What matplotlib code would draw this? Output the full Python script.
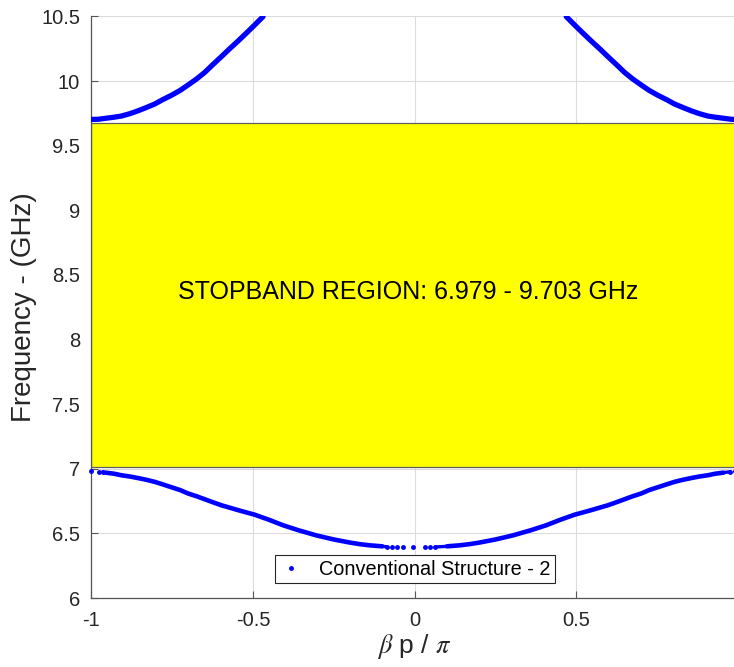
import matplotlib
matplotlib.use("Agg")
import matplotlib.pyplot as plt
from matplotlib.lines import Line2D
from matplotlib.patches import Rectangle

plt.rcParams['font.family'] = ['Liberation Sans', 'DejaVu Sans']
plt.rcParams['mathtext.fontset'] = 'stix'

# ---- data ----
# upper band, left branch (beta p / pi, GHz)
upper_left_beta = [-1.0, -0.979, -0.955, -0.930, -0.907, -0.880, -0.855, -0.830, -0.804, -0.780, -0.752,
                   -0.725, -0.701, -0.675, -0.650, -0.625, -0.598, -0.572, -0.546, -0.520, -0.495, -0.469]
upper_left_freq = [9.703, 9.704, 9.712, 9.720, 9.729, 9.748, 9.770, 9.795, 9.822, 9.855, 9.890,
                   9.928, 9.969, 10.015, 10.065, 10.125, 10.188, 10.250, 10.310, 10.372, 10.433, 10.498]
# upper band, right branch
upper_right_beta = [0.469, 0.495, 0.520, 0.546, 0.572, 0.598, 0.625, 0.650, 0.675, 0.701, 0.725,
                    0.752, 0.780, 0.804, 0.830, 0.855, 0.880, 0.907, 0.930, 0.955, 0.979, 0.995]
upper_right_freq = [10.498, 10.433, 10.372, 10.310, 10.250, 10.188, 10.125, 10.065, 10.015, 9.969, 9.928,
                    9.890, 9.855, 9.822, 9.795, 9.770, 9.748, 9.729, 9.720, 9.712, 9.704, 9.703]
# lower band (continuous part, left half then right half)
lower_left_beta = [-0.955, -0.930, -0.907, -0.880, -0.855, -0.830, -0.804, -0.780, -0.752, -0.725, -0.701,
                   -0.675, -0.650, -0.625, -0.598, -0.572, -0.546, -0.520, -0.495, -0.450, -0.407, -0.360,
                   -0.303, -0.250, -0.200, -0.170, -0.140, -0.100]
lower_left_freq = [6.970, 6.962, 6.950, 6.940, 6.928, 6.915, 6.899, 6.880, 6.857, 6.835, 6.809,
                   6.788, 6.765, 6.742, 6.718, 6.699, 6.680, 6.662, 6.645, 6.605, 6.563, 6.525,
                   6.484, 6.453, 6.429, 6.417, 6.408, 6.400]
lower_right_beta = [0.100, 0.140, 0.170, 0.200, 0.250, 0.303, 0.360, 0.407, 0.450, 0.495, 0.520,
                    0.546, 0.572, 0.598, 0.625, 0.650, 0.675, 0.701, 0.725, 0.752, 0.780, 0.804,
                    0.830, 0.855, 0.880, 0.907, 0.930, 0.955]
lower_right_freq = [6.400, 6.408, 6.417, 6.429, 6.453, 6.484, 6.525, 6.563, 6.605, 6.645, 6.662,
                    6.680, 6.699, 6.718, 6.742, 6.765, 6.788, 6.809, 6.835, 6.857, 6.880, 6.899,
                    6.915, 6.928, 6.940, 6.950, 6.962, 6.970]
# lower band, isolated sparse points near the band edges
sparse_beta = [-1.0, -0.975, -0.965, -0.087, -0.071, -0.056, -0.037, -0.004, 0.032, 0.048, 0.064, 0.975, 0.99]
sparse_freq = [6.979, 6.977, 6.976, 6.397, 6.395, 6.394, 6.393, 6.392, 6.393, 6.394, 6.395, 6.977, 6.979]

stop_low, stop_high = 7.015, 9.675
stop_label = 'STOPBAND REGION: 6.979 - 9.703 GHz'
legend_label = 'Conventional Structure - 2'
xticks = [-1, -0.5, 0, 0.5, 1]
xticklabels = ['-1', '-0.5', '0', '0.5', '1']
yticks = [6, 6.5, 7, 7.5, 8, 8.5, 9, 9.5, 10, 10.5]
yticklabels = ['6', '6.5', '7', '7.5', '8', '8.5', '9', '9.5', '10', '10.5']

fig = plt.figure(figsize=(7.34, 6.67), dpi=100)
ax = fig.add_axes([0.1244, 0.1034, 0.881, 0.872])

ax.set_xlim(-1, 1)
ax.set_ylim(6, 10.5)
ax.grid(True, color='#dcdcdc', linewidth=0.8)
ax.set_axisbelow(True)

ax.add_patch(Rectangle((-1, stop_low), 2, stop_high - stop_low,
                       facecolor='#ffff00', edgecolor='#606060', linewidth=0.9, zorder=2))
ax.text(-0.02, 8.37, stop_label, ha='center', va='center', fontsize=18, color='black', zorder=3)

blue = '#0000ff'
kw = dict(color=blue, solid_capstyle='round', solid_joinstyle='round', zorder=4)
ax.plot(upper_left_beta, upper_left_freq, '-', linewidth=3.8, **kw)
ax.plot(upper_right_beta, upper_right_freq, '-', linewidth=3.8, **kw)
ax.plot(lower_left_beta, lower_left_freq, '-', linewidth=3.3, **kw)
ax.plot(lower_right_beta, lower_right_freq, '-', linewidth=3.3, **kw)
ax.plot([lower_left_beta[-1], sparse_beta[3]], [lower_left_freq[-1], sparse_freq[3]], '-', linewidth=2.4, **kw)
ax.plot([sparse_beta[10], lower_right_beta[0]], [sparse_freq[10], lower_right_freq[0]], '-', linewidth=2.4, **kw)
ax.plot([sparse_beta[2], lower_left_beta[0]], [sparse_freq[2], lower_left_freq[0]], '-', linewidth=2.4, **kw)
ax.plot([lower_right_beta[-1], sparse_beta[11]], [lower_right_freq[-1], sparse_freq[11]], '-', linewidth=2.4, **kw)
ax.plot(sparse_beta, sparse_freq, '.', color=blue, markersize=5, zorder=5, clip_on=False)

for s in ['top', 'right']:
    ax.spines[s].set_visible(False)
for s in ['left', 'bottom']:
    ax.spines[s].set_color('#555555')
    ax.spines[s].set_linewidth(0.9)

ax.set_xticks(xticks)
ax.set_xticklabels(xticklabels)
ax.set_yticks(yticks)
ax.set_yticklabels(yticklabels)
ax.tick_params(direction='in', length=5, width=0.8, color='#555555', labelsize=14.5,
               labelcolor='#262626')
ax.tick_params(axis='x', pad=9)
ax.tick_params(axis='y', pad=8)
# the label at +1 falls outside the picture in the reference
ax.get_xticklabels()[-1].set_visible(False)

ax.set_xlabel(r'$\beta$ p / $\pi$', fontsize=19, color='#262626', labelpad=2)
ax.set_ylabel('Frequency - (GHz)', fontsize=20, color='#262626', labelpad=3)

handle = Line2D([], [], linestyle='none', marker='.', markersize=5, color=blue)
leg = ax.legend([handle], [legend_label], loc='lower center', bbox_to_anchor=(0.5, 0.0),
                fontsize=14.3, frameon=True, fancybox=False, edgecolor='#262626',
                framealpha=1, handlelength=1.2, handletextpad=0.8, borderpad=0.22,
                borderaxespad=0.75)
leg.get_frame().set_linewidth(0.8)

fig.savefig('out.png', dpi=100)
